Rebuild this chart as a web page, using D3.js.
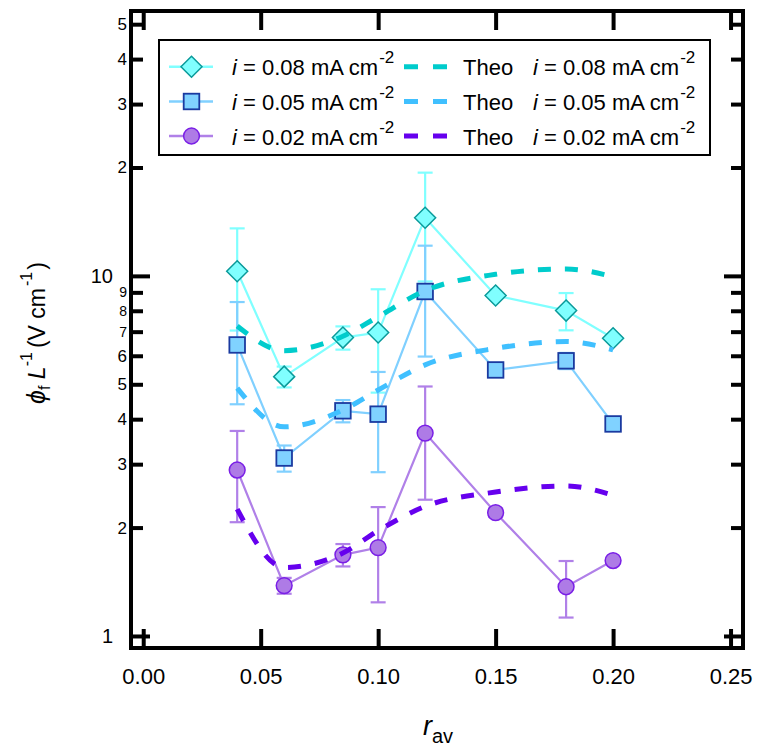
<!DOCTYPE html>
<html>
<head>
<meta charset="utf-8">
<script src="https://cdn.jsdelivr.net/npm/d3@7"></script>
<style>
  html, body { margin: 0; padding: 0; background: #fff; }
  svg { display: block; font-family: "Liberation Sans", Arial, Helvetica, sans-serif; }
</style>
</head>
<body>
<div id="chart"></div>
<script>
// Average pore ratio r_av at which each sample was measured
const rav = [0.04, 0.06, 0.085, 0.10, 0.12, 0.15, 0.18, 0.20];

// Measured field (phi_f / L, V cm^-1) and its error bars, per current density
const phi008 = [10.3, 5.25, 6.74, 6.96, 14.5, 8.82, 8.01, 6.71];
const err008 = [3.25, 0.35, 0.5, 2.22, 4.85, 0, 0.95, 0];
const phi005 = [6.43, 3.12, 4.22, 4.13, 9.05, 5.48, 5.81, 3.88];
const err005 = [2.03, 0.26, 0.3, 1.28, 3.08, 0, 0.3, 0];
const phi002 = [2.89, 1.38, 1.68, 1.76, 3.66, 2.20, 1.37, 1.62];
const err002 = [0.82, 0.07, 0.12, 0.52, 1.27, 0.06, 0.245, 0];

// Theoretical curves at the same r_av
const theo008 = [7.26, 6.2, 6.8, 7.7, 9.1, 10.1, 10.45, 9.95];
const theo005 = [4.88, 3.81, 4.24, 4.82, 5.66, 6.29, 6.57, 6.23];
const theo002 = [2.25, 1.55, 1.70, 1.96, 2.29, 2.51, 2.61, 2.46];

// Axis ticks
const xTicks = [0, 0.05, 0.10, 0.15, 0.20, 0.25];
const xTickLabels = ["0.00", "0.05", "0.10", "0.15", "0.20", "0.25"];
const yTicks = [1, 2, 3, 4, 5, 6, 7, 8, 9, 10, 20, 30, 40, 50];
const yTickLabels = ["1", "2", "3", "4", "5", "6", "7", "8", "9", "10", "2", "3", "4", "5"];
const xDomain = [-0.0052, 0.2553];
const yDomain = [0.926, 54.4];

const W = 757, H = 751;
const frame = { left: 131, right: 743, top: 11, bottom: 648 };

const svg = d3.select("#chart").append("svg")
  .attr("width", W).attr("height", H);

const x = d3.scaleLinear().domain(xDomain).range([frame.left, frame.right]);
const y = d3.scaleLog().domain(yDomain).range([frame.bottom, frame.top]);

const fontFor = v => (v === 1 || v === 10) ? 20 : (v >= 7 && v <= 9 ? 14 : 17);
const isMajor = v => v === 1 || v === 10;

// ---- axes ----
const bottomAxis = svg.append("g")
  .attr("transform", `translate(0,${frame.bottom})`)
  .call(d3.axisBottom(x).tickValues(xTicks)
    .tickFormat((d, i) => xTickLabels[i]).tickSize(-19).tickPadding(20));
const topAxis = svg.append("g")
  .attr("transform", `translate(0,${frame.top})`)
  .call(d3.axisTop(x).tickValues(xTicks).tickFormat("").tickSize(-19));
const leftAxis = svg.append("g")
  .attr("transform", `translate(${frame.left},0)`)
  .call(d3.axisLeft(y).tickValues(yTicks)
    .tickFormat((d, i) => yTickLabels[i]).tickSize(-12).tickPadding(4));
const rightAxis = svg.append("g")
  .attr("transform", `translate(${frame.right},0)`)
  .call(d3.axisRight(y).tickValues(yTicks).tickFormat("").tickSize(-12));

[bottomAxis, topAxis, leftAxis, rightAxis].forEach(g => {
  g.select(".domain").remove();
  g.selectAll(".tick line").attr("stroke", "#000").attr("stroke-width", 4);
});
bottomAxis.selectAll("text").attr("font-size", 22).attr("fill", "#000")
  .attr("font-family", "Liberation Sans, Arial, sans-serif");
leftAxis.selectAll(".tick line").attr("x2", d => isMajor(d) ? 19 : 12);
rightAxis.selectAll(".tick line").attr("x2", d => isMajor(d) ? -19 : -12);
leftAxis.selectAll("text")
  .attr("font-size", d => fontFor(d))
  .attr("x", d => isMajor(d) ? -18 : -4)
  .attr("fill", "#000")
  .attr("font-family", "Liberation Sans, Arial, sans-serif");

// ---- data series ----
const series = [
  { vals: phi008, errs: err008, shape: "diamond", fill: "#80FFFF", stroke: "#0A9A9A", line: "#80FFFF" },
  { vals: phi005, errs: err005, shape: "square",  fill: "#80D2FF", stroke: "#1A3AA0", line: "#80D0FF" },
  { vals: phi002, errs: err002, shape: "circle",  fill: "#AE7BE6", stroke: "#7A1FE6", line: "#B080E8" }
];

const lineGen = d3.line().x(d => x(d[0])).y(d => y(d[1]));

function drawMarker(g, shape, cx, cy, fill, stroke) {
  if (shape === "diamond") {
    const s = 10.5;
    g.append("path")
      .attr("d", `M${cx},${cy - s}L${cx + s},${cy}L${cx},${cy + s}L${cx - s},${cy}Z`)
      .attr("fill", fill).attr("stroke", stroke).attr("stroke-width", 1.5);
  } else if (shape === "square") {
    const s = 7.8;
    g.append("rect").attr("x", cx - s).attr("y", cy - s)
      .attr("width", 2 * s).attr("height", 2 * s)
      .attr("fill", fill).attr("stroke", stroke).attr("stroke-width", 1.8);
  } else {
    g.append("circle").attr("cx", cx).attr("cy", cy).attr("r", 7.9)
      .attr("fill", fill).attr("stroke", stroke).attr("stroke-width", 1.5);
  }
}

series.forEach(s => {
  const g = svg.append("g");
  const pts = rav.map((r, i) => [r, s.vals[i]]);
  g.append("path").attr("d", lineGen(pts))
    .attr("fill", "none").attr("stroke", s.line).attr("stroke-width", 2.2);
  // error bars
  rav.forEach((r, i) => {
    const e = s.errs[i];
    if (!e) return;
    const cx = x(r), y0 = y(s.vals[i] + e), y1 = y(s.vals[i] - e);
    g.append("line").attr("x1", cx).attr("x2", cx).attr("y1", y0).attr("y2", y1)
      .attr("stroke", s.line).attr("stroke-width", 2.2);
    [y0, y1].forEach(yy => g.append("line")
      .attr("x1", cx - 7.5).attr("x2", cx + 7.5).attr("y1", yy).attr("y2", yy)
      .attr("stroke", s.line).attr("stroke-width", 2.2));
  });
  rav.forEach((r, i) => drawMarker(g, s.shape, x(r), y(s.vals[i]), s.fill, s.stroke));
});

// ---- theoretical curves ----
const theory = [
  { vals: theo008, color: "#00CCCC" },
  { vals: theo005, color: "#40C0FF" },
  { vals: theo002, color: "#6600EE" }
];
const curveGen = d3.line().x(d => x(d[0])).y(d => y(d[1])).curve(d3.curveMonotoneX);
theory.forEach(t => {
  svg.append("path").attr("d", curveGen(rav.map((r, i) => [r, t.vals[i]])))
    .attr("fill", "none").attr("stroke", t.color).attr("stroke-width", 5)
    .attr("stroke-dasharray", "13,14");
});

// ---- frame ----
svg.append("rect")
  .attr("x", frame.left).attr("y", frame.top)
  .attr("width", frame.right - frame.left).attr("height", frame.bottom - frame.top)
  .attr("fill", "none").attr("stroke", "#000").attr("stroke-width", 4);

// ---- legend ----
const legend = svg.append("g");
legend.append("rect").attr("x", 159).attr("y", 40).attr("width", 551).attr("height", 115)
  .attr("fill", "#fff").attr("stroke", "#000").attr("stroke-width", 2);

const legendLabels = ["0.08", "0.05", "0.02"];
const rowY = [66.7, 101.5, 136];

function currentLabel(g, xPos, yPos, val) {
  const t = g.append("text").attr("x", xPos).attr("y", yPos + 8.5)
    .attr("font-size", 22).attr("fill", "#000");
  t.append("tspan").attr("font-style", "italic").text("i");
  t.append("tspan").text(` = ${val} mA cm`);
  t.append("tspan").attr("font-size", 17).attr("dy", -12).attr("dx", 1).text("-2");
}

series.forEach((s, i) => {
  const cy = rowY[i];
  legend.append("line").attr("x1", 169).attr("x2", 213).attr("y1", cy).attr("y2", cy)
    .attr("stroke", s.line).attr("stroke-width", 2.5);
  drawMarker(legend, s.shape, 191.5, cy, s.fill, s.stroke);
  currentLabel(legend, 232, cy, legendLabels[i]);
  legend.append("line").attr("x1", 404).attr("x2", 448).attr("y1", cy).attr("y2", cy)
    .attr("stroke", theory[i].color).attr("stroke-width", 5)
    .attr("stroke-dasharray", "14,15");
  legend.append("text").attr("x", 463).attr("y", cy + 8.5)
    .attr("font-size", 22).attr("fill", "#000").text("Theo");
  currentLabel(legend, 533, cy, legendLabels[i]);
});

// ---- axis titles ----
const xt = svg.append("text").attr("x", 423).attr("y", 735).attr("fill", "#000");
xt.append("tspan").attr("font-size", 27).attr("font-style", "italic").text("r");
xt.append("tspan").attr("font-size", 20).attr("dy", 8).text("av");

const yt = svg.append("text")
  .attr("transform", "translate(45,333) rotate(-90)")
  .attr("text-anchor", "middle").attr("font-size", 23).attr("fill", "#000");
yt.append("tspan").attr("font-style", "italic").attr("font-size", 25).text("\u03D5");
yt.append("tspan").attr("font-size", 16).attr("dy", 5).text("f");
yt.append("tspan").attr("dy", -5).text(" ");
yt.append("tspan").attr("font-style", "italic").text("L");
yt.append("tspan").attr("font-size", 16).attr("dy", -13).text("-1");
yt.append("tspan").attr("dy", 13).attr("dx", 4).text("(V cm");
yt.append("tspan").attr("font-size", 16).attr("dy", -13).attr("dx", 2).text("-1");
yt.append("tspan").attr("dy", 13).attr("dx", 2).text(")");
</script>
</body>
</html>
